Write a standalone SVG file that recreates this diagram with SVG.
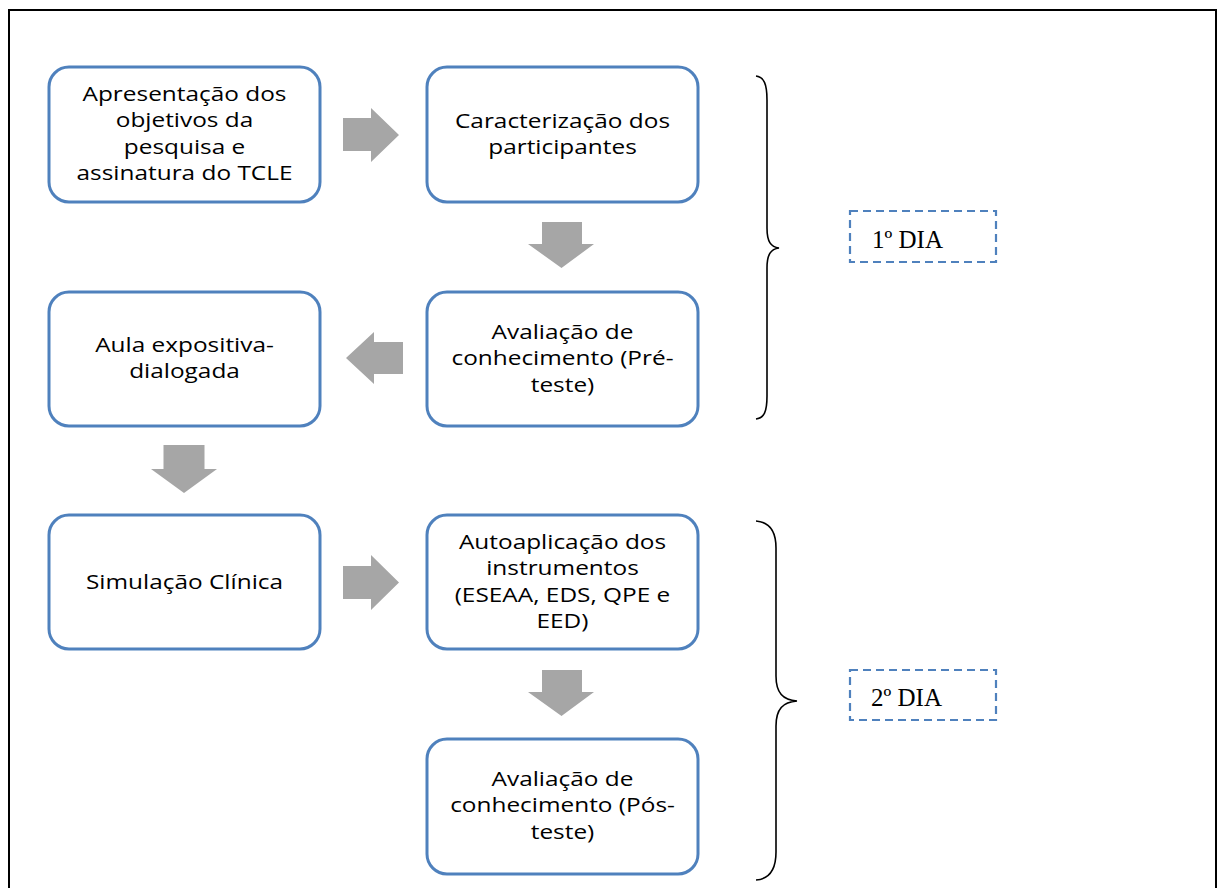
<svg xmlns="http://www.w3.org/2000/svg" width="1218" height="888" viewBox="0 0 1218 888">
  <style>
    .box { fill: #ffffff; stroke: #4F81BD; stroke-width: 3; }
    .lbl { font-family: "Open Sans", "Liberation Sans", sans-serif; font-size: 20px; fill: #000000; text-anchor: middle; }
    .arrow { fill: #A6A6A6; stroke: none; }
    .brace { fill: none; stroke: #000000; stroke-width: 1.6; }
    .day { fill: #ffffff; stroke: #4F81BD; stroke-width: 2.2; stroke-dasharray: 8 5; }
    .daytxt { font-family: "Liberation Serif", "DejaVu Serif", serif; font-size: 25px; fill: #000000; }
  </style>

  <!-- outer frame -->
  <rect x="9" y="10" width="1207" height="890" fill="#ffffff" stroke="#000000" stroke-width="2"/>

  <!-- process steps -->
  <g id="apresentacao">
    <rect class="box" x="49" y="67" width="271" height="135" rx="20"/>
    <g transform="translate(184.5 0) scale(1.22 1)">
      <text class="lbl" x="0" y="101">Apresentação dos</text>
      <text class="lbl" x="0" y="127.5">objetivos da</text>
      <text class="lbl" x="0" y="154">pesquisa e</text>
      <text class="lbl" x="0" y="180.5">assinatura do TCLE</text>
    </g>
  </g>

  <g id="caracterizacao">
    <rect class="box" x="427" y="67" width="271" height="135" rx="20"/>
    <g transform="translate(562.5 0) scale(1.22 1)">
      <text class="lbl" x="0" y="128">Caracterização dos</text>
      <text class="lbl" x="0" y="154.5">participantes</text>
    </g>
  </g>

  <g id="pre-teste">
    <rect class="box" x="427" y="292" width="271" height="134" rx="20"/>
    <g transform="translate(562.5 0) scale(1.22 1)">
      <text class="lbl" x="0" y="339">Avaliação de</text>
      <text class="lbl" x="0" y="365.5">conhecimento (Pré-</text>
      <text class="lbl" x="0" y="392">teste)</text>
    </g>
  </g>

  <g id="aula">
    <rect class="box" x="49" y="292" width="271" height="134" rx="20"/>
    <g transform="translate(184.5 0) scale(1.22 1)">
      <text class="lbl" x="0" y="352">Aula expositiva-</text>
      <text class="lbl" x="0" y="378.5">dialogada</text>
    </g>
  </g>

  <g id="simulacao">
    <rect class="box" x="49" y="515" width="271" height="134" rx="20"/>
    <g transform="translate(184.5 0) scale(1.22 1)">
      <text class="lbl" x="0" y="589">Simulação Clínica</text>
    </g>
  </g>

  <g id="autoaplicacao">
    <rect class="box" x="427" y="515" width="271" height="134" rx="20"/>
    <g transform="translate(562.5 0) scale(1.22 1)">
      <text class="lbl" x="0" y="549">Autoaplicação dos</text>
      <text class="lbl" x="0" y="575.5">instrumentos</text>
      <text class="lbl" x="0" y="602">(ESEAA, EDS, QPE e</text>
      <text class="lbl" x="0" y="628.5">EED)</text>
    </g>
  </g>

  <g id="pos-teste">
    <rect class="box" x="427" y="739" width="271" height="135" rx="20"/>
    <g transform="translate(562.5 0) scale(1.22 1)">
      <text class="lbl" x="0" y="786">Avaliação de</text>
      <text class="lbl" x="0" y="812.5">conhecimento (Pós-</text>
      <text class="lbl" x="0" y="839">teste)</text>
    </g>
  </g>

  <!-- block arrows between steps -->
  <g id="connectors">
    <polygon class="arrow" points="343,118 371,118 371,108 399,135 371,162 371,151 343,151"/>
    <polygon class="arrow" points="542,222 582,222 582,244 594,244 561.5,268 528,244 542,244"/>
    <polygon class="arrow" points="403,342 374,342 374,332 346,358 374,384 374,374 403,374"/>
    <polygon class="arrow" points="163.5,445 204.5,445 204.5,469 217,469 184,493 151,469 163.5,469"/>
    <polygon class="arrow" points="343,566 371,566 371,555 399,582.5 371,610 371,599 343,599"/>
    <polygon class="arrow" points="542,670 582,670 582,692 594,692 561.5,716 528,692 542,692"/>
  </g>

  <!-- day groupings -->
  <g id="brace-dia1">
    <path class="brace" d="M756,76 C764,77 767,84 767,100 L767,228 C767,242 771,247 779,248 C771,249 767,254 767,268 L767,396 C767,412 764,418 756,419"/>
  </g>
  <g id="dia1">
    <rect class="day" x="850" y="211" width="146" height="51"/>
    <text class="daytxt" x="872" y="248">1º DIA</text>
  </g>

  <g id="brace-dia2">
    <path class="brace" d="M756,521 C769,522 776,530 776,548 L776,676 C776,693 783,700 797,701 C783,702 776,709 776,726 L776,852 C776,870 769,879 756,880"/>
  </g>
  <g id="dia2">
    <rect class="day" x="850" y="670" width="146" height="50"/>
    <text class="daytxt" x="871" y="706">2º DIA</text>
  </g>
</svg>
